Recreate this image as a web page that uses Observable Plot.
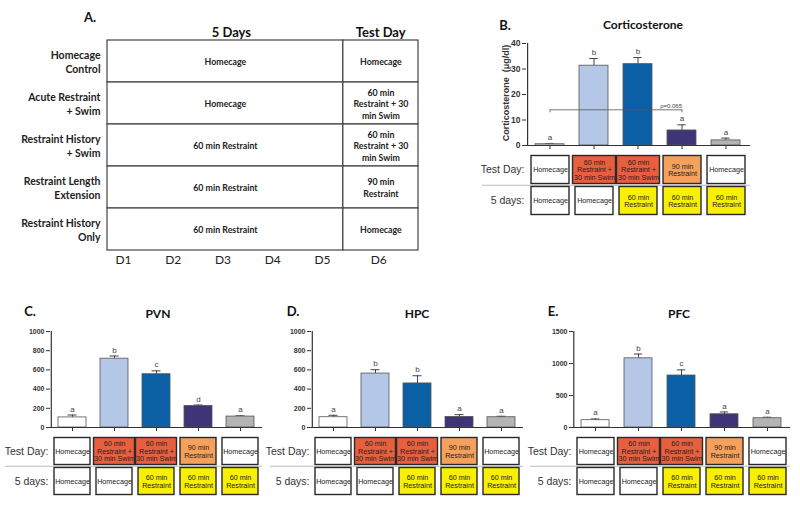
<!DOCTYPE html>
<html><head><meta charset="utf-8">
<script src="https://cdn.jsdelivr.net/npm/d3@7"></script>
<script src="https://cdn.jsdelivr.net/npm/@observablehq/plot@0.6"></script>
<style>
body{margin:0;background:#fff;width:800px;height:507px;position:relative;overflow:hidden;font-family:"Liberation Sans",Arial,sans-serif}
.p{position:absolute}
.p svg{overflow:visible;max-width:none}
.t{position:absolute;font-family:Lato,sans-serif;font-weight:bold;color:#111;white-space:nowrap;transform:translate(-50%,-50%);line-height:1}
.yl{position:absolute;font-family:"Liberation Sans",Arial,sans-serif;font-weight:bold;font-size:9px;color:#333;white-space:pre;line-height:1;transform:translate(-50%,-50%) rotate(-90deg)}
</style></head><body>
<script>
// ---------- data ----------
const groups = ["Homecage Control","Acute Restraint + Swim","Restraint History + Swim","Restraint Length Extension","Restraint History Only"];
const rowLabels = ["Homecage\nControl","Acute Restraint\n+ Swim","Restraint History\n+ Swim","Restraint Length\nExtension","Restraint History\nOnly"];
const fiveDayTableText = ["Homecage","Homecage","60 min Restraint","60 min Restraint","60 min Restraint"];
const testDayTableText = ["Homecage","60 min\nRestraint + 30\nmin Swim","60 min\nRestraint + 30\nmin Swim","90 min\nRestraint","Homecage"];
const columnNames = ["5 Days","Test Day"];
const columnStart = [0.68, 5.42];
const columnEnd = [5.42, 6.93];
const headerPos = [3.17, 6.17];
const dayLabels = ["D1","D2","D3","D4","D5","D6"];
const dayPos = [1,2,3,4,5,6.13];

const barColors = ["#ffffff","#b4c7e7","#0b5fa5","#3e3578","#b4b4b4"];
const boxRows = ["Test Day:","5 days:"];
const testDayBoxText = ["Homecage","60 min\nRestraint +\n30 min Swim","60 min\nRestraint +\n30 min Swim","90 min\nRestraint","Homecage"];
const fiveDayBoxText = ["Homecage","Homecage","60 min\nRestraint","60 min\nRestraint","60 min\nRestraint"];
const testDayColors = ["#ffffff","#e6603e","#e6603e","#f5a15c","#ffffff"];
const fiveDayColors = ["#ffffff","#ffffff","#f7ef04","#f7ef04","#f7ef04"];

const cortLabel = "Corticosterone  (\u03bcg/dl)";
const cortMean = [0.5, 31.3, 31.9, 5.9, 2.0];
const cortErr  = [0.3, 2.8, 2.6, 2.2, 0.9];
const cortLetters = ["a","b","b","a","a"];
const cortTicks = [0,10,20,30,40];
const cortBracket = {from: groups[0], to: groups[3], y: 14, label: "p=0.065"};

const pvnMean = [105, 717, 555, 224, 114];
const pvnErr  = [25, 28, 35, 10, 8];
const pvnLetters = ["a","b","c","d","a"];
const hpcMean = [107, 562, 459, 110, 107];
const hpcErr  = [20, 40, 80, 24, 10];
const hpcLetters = ["a","b","b","a","a"];
const pfcMean = [114, 1081, 812, 207, 145];
const pfcErr  = [20, 67, 88, 36, 15];
const pfcLetters = ["a","b","c","a","a"];
const tick1000 = [0,200,400,600,800,1000];
const tick1500 = [0,500,1000,1500];

// ---------- helpers ----------
function place(node, left, top, width) {
  const d = document.createElement("div");
  d.className = "p"; d.style.left = left + "px"; d.style.top = top + "px"; d.style.width = width + "px";
  d.appendChild(node); document.body.appendChild(d);
}
function title(text, x, y, size, cls) {
  const d = document.createElement("div");
  d.className = cls || "t"; d.textContent = text; d.style.left = x + "px"; d.style.top = y + "px";
  if (size) d.style.fontSize = size + "px";
  document.body.appendChild(d);
}
const baseStyle = {fontFamily: "'Liberation Sans', Arial, sans-serif", fontSize: "8px", color: "#333", background: "transparent", overflow: "visible"};

// ---------- Panel A ----------
const cells = [];
groups.forEach((g, i) => {
  cells.push({g, x1: columnStart[0], x2: columnEnd[0], text: fiveDayTableText[i]});
  cells.push({g, x1: columnStart[1], x2: columnEnd[1], text: testDayTableText[i]});
});
const tableRows = groups.map((g, i) => ({g, label: rowLabels[i]}));
place(Plot.plot({
  width: 425, height: 280, marginLeft: 107, marginRight: 7, marginTop: 38, marginBottom: 28,
  style: {...baseStyle, fontFamily: "Lato, sans-serif"},
  x: {domain: [columnStart[0], columnEnd[1]], axis: null},
  y: {domain: groups, padding: 0, axis: null},
  marks: [
    Plot.barX(cells, {x1: "x1", x2: "x2", y: "g", fill: "white", stroke: "#444", strokeWidth: 1.2}),
    Plot.text(cells, {x: d => (d.x1 + d.x2) / 2, y: "g", text: "text", fontSize: 8.8, fontWeight: "bold", lineHeight: 1.3, fill: "#222"}),
    Plot.text(tableRows, {y: "g", text: "label", frameAnchor: "left", textAnchor: "end", dx: -7, fontSize: 10.5, fontWeight: "bold", lineHeight: 1.3, fill: "#222"}),
    Plot.text(columnNames, {x: (d, i) => headerPos[i], text: d => d, frameAnchor: "top", dy: -11, fontSize: 13, fontWeight: "bold", fill: "#111"}),
    Plot.text(dayLabels, {x: (d, i) => dayPos[i], text: d => d, frameAnchor: "bottom", dy: 11, fontSize: 12, fill: "#222"})
  ]
}), 0, 0, 425);

// ---------- bar chart ----------
function barChart({mean, err, letters, yDomain, yTicks, width, height, ml, mr, mt, mb, tickFont, bracket}) {
  const data = groups.map((g, i) => ({g, mean: mean[i], top: mean[i] + err[i], letter: letters[i], color: barColors[i]}));
  const pad = 0.34;
  const step = (width - ml - mr) / groups.length;
  const bw = step * (1 - pad);
  const capInset = (bw - 9) / 2;
  const marks = [
    Plot.ruleX(data, {x: "g", y1: "mean", y2: "top", stroke: "#444", strokeWidth: 1}),
    Plot.tickY(data, {x: "g", y: "top", stroke: "#444", strokeWidth: 1, insetLeft: capInset, insetRight: capInset}),
    Plot.barY(data, {x: "g", y: "mean", fill: "color", stroke: "#555", strokeWidth: 0.8}),
    Plot.text(data, {x: "g", y: "top", text: "letter", dy: -6, fontSize: 8, fill: "#444"}),
    Plot.axisX({tickSize: 4, tickFormat: () => "", stroke: "#333", label: null}),
    Plot.ruleY([yDomain[0]], {stroke: "#333", strokeWidth: 1.2}),
    Plot.ruleX([groups[0]], {dx: -step / 2, stroke: "#333", strokeWidth: 1.2}),
    Plot.axisY({ticks: yTicks, tickFormat: d => String(d), tickSize: 4, tickPadding: 2, fontWeight: "bold", fontSize: tickFont, stroke: "#333", label: null})
  ];
  if (bracket) {
    marks.push(
      Plot.link([bracket], {x1: "from", x2: "to", y1: "y", y2: "y", stroke: "#555", strokeWidth: 0.8}),
      Plot.ruleX([bracket.from, bracket.to], {x: d => d, y1: bracket.y, y2: bracket.y - 1.2, stroke: "#555", strokeWidth: 0.8}),
      Plot.text([bracket], {x: "to", y: "y", text: "label", textAnchor: "end", dy: -4, fontSize: 6, fill: "#444"})
    );
  }
  return Plot.plot({
    width, height, marginLeft: ml, marginRight: mr, marginTop: mt, marginBottom: mb,
    style: baseStyle,
    x: {domain: groups, paddingInner: pad, paddingOuter: pad / 2, axis: null},
    y: {domain: yDomain, axis: null},
    color: {type: "identity"},
    marks
  });
}

// ---------- condition boxes ----------
function boxChart({width, height, ml, mr, mt, mb, sepLeft}) {
  const data = [];
  groups.forEach((g, i) => {
    data.push({g, row: boxRows[0], text: testDayBoxText[i], fill: testDayColors[i]});
    data.push({g, row: boxRows[1], text: fiveDayBoxText[i], fill: fiveDayColors[i]});
  });
  const stepY = (height - mt - mb) / boxRows.length;
  const wide = d => d.text.includes("Swim");
  const cellOpts = {x: "g", y: "row", fill: "fill", stroke: "#2a2a2a", strokeWidth: 1.4, insetTop: 1.5, insetBottom: 1.5};
  return Plot.plot({
    width, height, marginLeft: ml, marginRight: mr, marginTop: mt, marginBottom: mb,
    style: baseStyle,
    x: {domain: groups, padding: 0, axis: null},
    y: {domain: boxRows, padding: 0, axis: null},
    color: {type: "identity"},
    marks: [
      Plot.ruleY([boxRows[1]], {dy: -stepY / 2, stroke: "#bbb", strokeWidth: 1, insetLeft: -sepLeft}),
      Plot.cell(data.filter(d => !wide(d)), {...cellOpts, insetLeft: 3, insetRight: 3}),
      Plot.cell(data.filter(wide), {...cellOpts, insetLeft: 0.5, insetRight: 0.5}),
      Plot.text(data, {x: "g", y: "row", text: "text", fontSize: 7.2, lineHeight: 1.05, fill: "#222"}),
      Plot.text(boxRows, {y: d => d, text: d => d, frameAnchor: "left", textAnchor: "end", dx: -2, fontSize: 10.5, fill: "#333"})
    ]
  });
}

// ---------- titles ----------
title("A.", 90, 17, 13);
title("B.", 505, 25, 13);
title("Corticosterone", 643, 25, 12);
title("C.", 30, 311, 13);
title("PVN", 158, 314, 12);
title("D.", 293, 311, 13);
title("HPC", 417, 314, 12);
title("E.", 553, 311, 13);
title("PFC", 679, 314, 12);
title(cortLabel, 506, 93, null, "yl");

// ---------- Panel B ----------
place(barChart({mean: cortMean, err: cortErr, letters: cortLetters, yDomain: [0, 40], yTicks: cortTicks,
  width: 275, height: 125, ml: 46, mr: 5, mt: 13, mb: 10, tickFont: 8.5, bracket: cortBracket}), 480, 30, 275);
place(boxChart({width: 275, height: 70, ml: 46, mr: 5, mt: 3, mb: 4, sepLeft: 44}), 480, 150, 275);

// ---------- Panels C, D, E ----------
place(barChart({mean: pvnMean, err: pvnErr, letters: pvnLetters, yDomain: [0, 1000], yTicks: tick1000,
  width: 265, height: 112, ml: 50, mr: 3, mt: 11, mb: 5, tickFont: 7}), 0, 320, 265);
place(boxChart({width: 265, height: 66, ml: 50, mr: 3, mt: 3, mb: 2, sepLeft: 45}), 0, 432, 265);

place(barChart({mean: hpcMean, err: hpcErr, letters: hpcLetters, yDomain: [0, 1000], yTicks: tick1000,
  width: 262, height: 112, ml: 46, mr: 4, mt: 11, mb: 5, tickFont: 7}), 265, 320, 262);
place(boxChart({width: 262, height: 66, ml: 46, mr: 4, mt: 3, mb: 2, sepLeft: 41}), 265, 432, 262);

place(barChart({mean: pfcMean, err: pfcErr, letters: pfcLetters, yDomain: [0, 1500], yTicks: tick1500,
  width: 268, height: 112, ml: 46, mr: 5, mt: 11, mb: 5, tickFont: 7}), 527, 320, 268);
place(boxChart({width: 268, height: 66, ml: 46, mr: 5, mt: 3, mb: 2, sepLeft: 43}), 527, 432, 268);
</script>
</body></html>
